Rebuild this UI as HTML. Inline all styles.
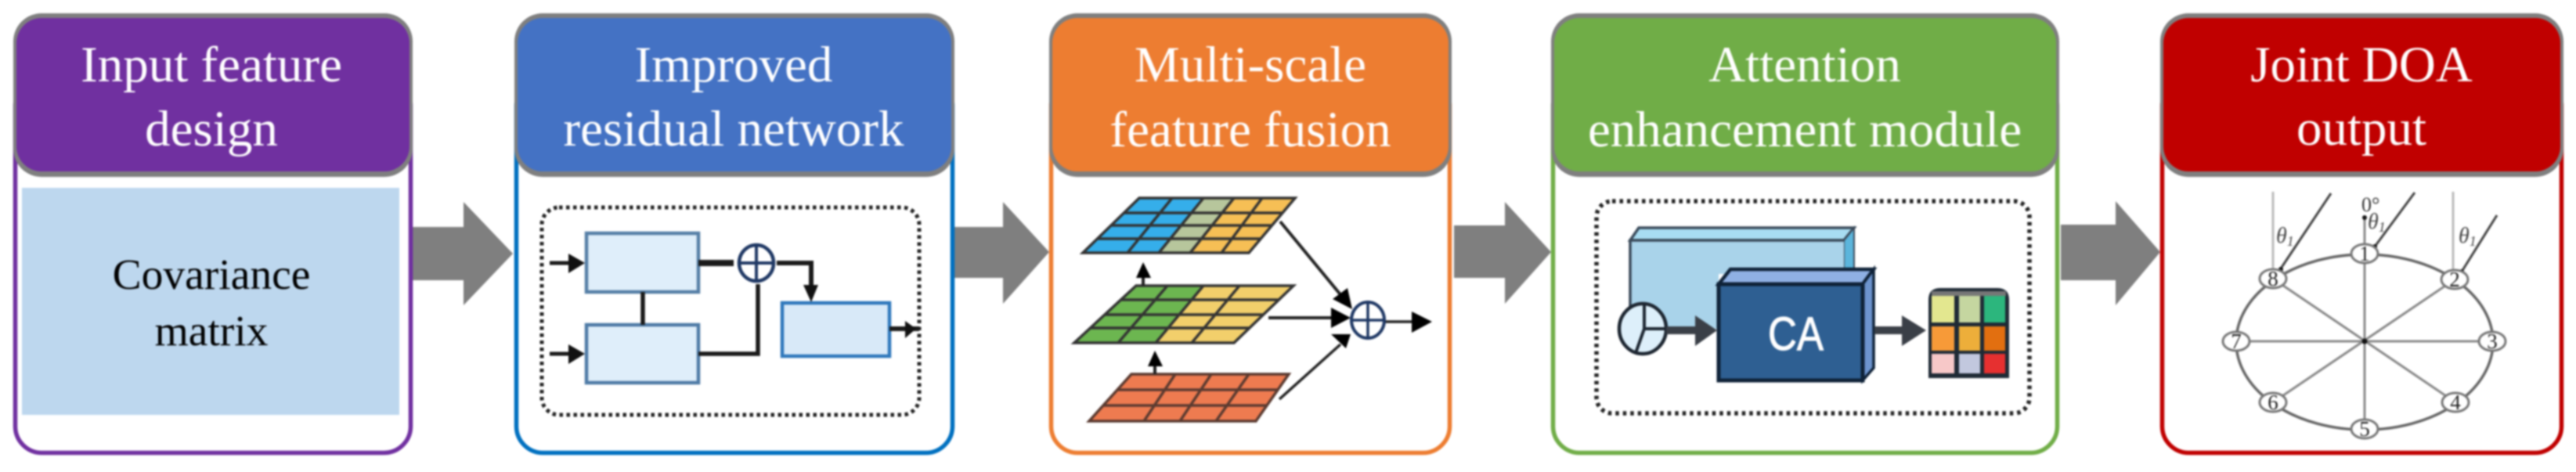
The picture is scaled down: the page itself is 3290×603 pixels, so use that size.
<!DOCTYPE html>
<html><head><meta charset="utf-8"><style>
html,body{margin:0;padding:0;background:#fff;width:3290px;height:603px;overflow:hidden}
svg{display:block;filter:blur(1px)}
.h{font-family:"Liberation Serif",serif;font-size:65px;fill:#fff;text-anchor:middle}
.c{font-family:"Liberation Serif",serif;font-size:55.5px;fill:#000;text-anchor:middle}
.n{font-family:"Liberation Serif",serif;font-size:27px;fill:#222;text-anchor:middle}
.t{font-family:"Liberation Serif",serif;font-style:italic;font-size:28px;fill:#444}
</style></head><body>
<svg width="3290" height="603" viewBox="0 0 3290 603" xmlns="http://www.w3.org/2000/svg">
<rect width="3290" height="603" fill="#fff"/>

<!-- block arrows -->
<g fill="#7f7f7f">
<path d="M527 290H592V258L655 324L592 390V358H527z"/>
<path d="M1219 290H1281V258L1340 322L1281 388V355H1219z"/>
<path d="M1857 288H1922V258L1981 322L1922 388V355H1857z"/>
<path d="M2632 287H2702V257L2759 322L2702 390V358H2632z"/>
</g>

<!-- box bodies -->
<g fill="#fff" stroke-width="5.5">
<rect x="19.5" y="100" width="505" height="478.5" rx="34" stroke="#7030a0"/>
<rect x="659.5" y="100" width="557" height="478.5" rx="34" stroke="#0070c0"/>
<rect x="1342.5" y="100" width="509" height="478.5" rx="34" stroke="#ed7d31"/>
<rect x="1983.5" y="100" width="644" height="478.5" rx="34" stroke="#70ad47"/>
<rect x="2761.5" y="100" width="510" height="478.5" rx="34" stroke="#c00000"/>
</g>

<!-- headers -->
<g fill="#7f7f7f">
<rect x="17" y="17" width="510" height="209" rx="36"/>
<rect x="657" y="17" width="562" height="209" rx="36"/>
<rect x="1340" y="17" width="514" height="209" rx="36"/>
<rect x="1981" y="17" width="649" height="209" rx="36"/>
<rect x="2759" y="17" width="515" height="209" rx="36"/>
</g>
<rect x="21" y="23" width="502" height="196" rx="32" fill="#7030a0"/>
<rect x="661" y="23" width="554" height="196" rx="32" fill="#4472c4"/>
<rect x="1344" y="23" width="506" height="196" rx="32" fill="#ed7d31"/>
<rect x="1985" y="23" width="641" height="196" rx="32" fill="#70ad47"/>
<rect x="2763" y="23" width="507" height="196" rx="32" fill="#c00000"/>

<text class="h" x="270" y="104">Input feature</text>
<text class="h" x="270" y="186">design</text>
<text class="h" x="937" y="104">Improved</text>
<text class="h" x="937" y="186">residual network</text>
<text class="h" x="1597" y="104">Multi-scale</text>
<text class="h" x="1597" y="187">feature fusion</text>
<text class="h" x="2305" y="104">Attention</text>
<text class="h" x="2305" y="187">enhancement module</text>
<text class="h" x="3016" y="104">Joint DOA</text>
<text class="h" x="3016" y="185">output</text>

<!-- box 1 -->
<rect x="28" y="240" width="482" height="290" fill="#bdd7ee"/>
<text class="c" x="270" y="369">Covariance</text>
<text class="c" x="270" y="441">matrix</text>

<!-- box 2 -->
<rect x="692" y="265" width="482" height="265" rx="22" fill="#fff" stroke="#222" stroke-width="5" stroke-dasharray="4.5 4.5"/>
<g fill="#dfeefa" stroke-width="4.5">
<rect x="749" y="298" width="143" height="75" stroke="#567fa6"/>
<rect x="749" y="415" width="143" height="74" stroke="#4f7ba6"/>
<rect x="999" y="387" width="137" height="68" fill="#d8e9f8" stroke="#2f78bc"/>
</g>
<g fill="none" stroke="#1a1a1a">
<path d="M702 336H730M702 452H730" stroke-width="5"/>
<path d="M892 336H937" stroke-width="8"/>
<path d="M821 373V415" stroke-width="5.5"/>
<path d="M892 452H968V363" stroke-width="5.5"/>
<path d="M992 336H1036V365" stroke-width="6"/>
<path d="M1136 420H1174" stroke-width="6"/>
</g>
<g fill="#111">
<path d="M726 324L747 336L726 349z"/>
<path d="M726 440L747 452L726 465z"/>
<path d="M1026 364H1045L1036 386z"/>
<path d="M1156 410L1170 420L1156 432z"/>
</g>
<ellipse cx="966" cy="336" rx="22" ry="23" fill="#fff" stroke="#1f3864" stroke-width="4.5"/>
<path d="M966 313V359M944 336H988" stroke="#1f3864" stroke-width="4"/>

<!-- box 3 grids -->
<path d="M1455 253H1537L1480 323H1383z" fill="#35aeea"/>
<path d="M1537 253H1576L1520 323H1480z" fill="#b7c69c"/>
<path d="M1576 253H1654L1595 323H1520z" fill="#f6bf55"/>
<path d="M1451 365H1537L1476 438H1372z" fill="#6cb650"/>
<path d="M1537 365H1652L1576 438H1476z" fill="#f2cf6b"/>
<path d="M1445 478H1646L1604 538H1391z" fill="#ee7b50"/>
<g fill="none" stroke="#333" stroke-width="3.5">
<path d="M1455 253H1654L1595 323H1383z"/>
<path d="M1435 272H1638M1419 288H1625M1401 305H1610M1497 253L1440 323M1537 253L1480 323M1576 253L1520 323M1612 253L1560 323"/>
<path d="M1451 365H1652L1576 438H1372z"/>
<path d="M1431 383H1633M1411 402H1613M1392 419H1596M1491 365L1428 438M1537 365L1476 438M1583 365L1522 438"/>
<path d="M1445 478H1646L1604 538H1391z" stroke="#5a3a30"/>
<path d="M1427 498H1632M1409 518H1618M1501 478L1461 538M1547 478L1507 538M1595 478L1553 538" stroke="#5a3a30"/>
</g>
<g stroke="#222" fill="none">
<path d="M1460 352V365M1475 465V478" stroke-width="4"/>
<path d="M1635 283L1715 380" stroke-width="4"/>
<path d="M1620 406H1705" stroke-width="4"/>
<path d="M1634 510L1712 440" stroke-width="3.5"/>
<path d="M1768 411H1806" stroke-width="3.5"/>
</g>
<g fill="#000">
<path d="M1451 355L1460 335L1470 355z"/>
<path d="M1466 468L1475 448L1485 468z"/>
<path d="M1727 395L1702 382L1721 368z"/>
<path d="M1725 406L1700 393V419z"/>
<path d="M1725 427L1719 445L1700 427z"/>
<path d="M1803 398L1829 411L1803 425z"/>
</g>
<ellipse cx="1747" cy="409" rx="21" ry="23" fill="#fff" stroke="#1f3864" stroke-width="4"/>
<path d="M1747 386V432M1726 409H1768" stroke="#1f3864" stroke-width="3.5"/>

<!-- box 4 -->
<rect x="2039" y="257" width="553" height="271" rx="20" fill="#fff" stroke="#222" stroke-width="5.5" stroke-dasharray="4.5 5"/>
<path d="M2082 307L2093 291H2368L2355 307z" fill="#a8ddf2" stroke="#3a4a5a" stroke-width="3.5"/>
<path d="M2355 307L2368 291V350H2355z" fill="#5bb5dc" stroke="#3a4a5a" stroke-width="2"/>
<path d="M2082 307H2355V350H2195V420H2082z" fill="#a9d3ea"/>
<path d="M2082 420V307H2355" fill="none" stroke="#3a4a5a" stroke-width="3.5"/>
<path d="M2195 363L2210 344H2393L2379 363z" fill="#8fb0e4" stroke="#0f2238" stroke-width="4.5"/>
<path d="M2379 363L2393 344V470L2379 486z" fill="#6d94ce" stroke="#0f2238" stroke-width="3.5"/>
<rect x="2195" y="363" width="184" height="123" fill="#2e5f92" stroke="#0f2238" stroke-width="5"/>
<text x="2258" y="447" font-family="'Liberation Sans',sans-serif" font-size="60" fill="#fff" stroke="#fff" stroke-width="1" textLength="71" lengthAdjust="spacingAndGlyphs">CA</text>
<ellipse cx="2098" cy="420" rx="30" ry="32" fill="#ddeffa" stroke="#1c2530" stroke-width="4.5"/>
<path d="M2100 389V420H2128M2100 420L2089 451" fill="none" stroke="#1c2530" stroke-width="4"/>
<path d="M2128 422H2170M2394 422H2432" stroke="#3a3f47" stroke-width="10"/>
<path d="M2165 403L2193 422L2165 442zM2429 403L2460 422L2429 442z" fill="#3a3f47"/>
<path d="M2463 483V383Q2463 368 2478 368H2551Q2566 368 2566 383V483z" fill="#1f2a35"/>
<rect x="2467" y="372" width="95" height="6" fill="#777"/>
<rect x="2467" y="378" width="29" height="34" fill="#e3e78f"/><rect x="2502" y="378" width="27" height="34" fill="#c5d6a0"/><rect x="2534" y="378" width="27" height="34" fill="#2cb67d"/>
<rect x="2467" y="417" width="29" height="31" fill="#f79a38"/><rect x="2502" y="417" width="27" height="31" fill="#edae3a"/><rect x="2534" y="417" width="27" height="31" fill="#e26f10"/>
<rect x="2467" y="452" width="29" height="25" fill="#f7c8c8"/><rect x="2502" y="452" width="27" height="25" fill="#c2c8de"/><rect x="2534" y="452" width="27" height="25" fill="#e63030"/>

<!-- box 5 -->
<ellipse cx="3020" cy="437" rx="164" ry="112" fill="none" stroke="#666" stroke-width="3.5"/>
<path d="M3020 278V548M2856 436H3183M2903 356L3136 514M3135 357L2903 514" stroke="#888" stroke-width="3" fill="none"/>
<path d="M2903 245V347M3133 245V357" stroke="#bbb" stroke-width="3"/>
<path d="M2977 247L2913 343M3084 246L3033 315M3189 275L3144 347" stroke="#444" stroke-width="3"/>
<g fill="#111"><circle cx="3020" cy="278" r="3"/><circle cx="2913" cy="344" r="3"/><circle cx="3033" cy="315" r="3"/><circle cx="3144" cy="347" r="3"/><circle cx="3020" cy="436" r="3.5"/></g>
<g fill="#fff" stroke="#777" stroke-width="3">
<ellipse cx="3020" cy="324" rx="17" ry="12"/><ellipse cx="3135" cy="357" rx="17" ry="12"/><ellipse cx="3183" cy="436" rx="17" ry="12"/><ellipse cx="3136" cy="514" rx="17" ry="12"/><ellipse cx="3020" cy="548" rx="17" ry="12"/><ellipse cx="2903" cy="514" rx="17" ry="12"/><ellipse cx="2856" cy="436" rx="17" ry="12"/><ellipse cx="2903" cy="356" rx="17" ry="12"/>
</g>
<text class="n" x="3020" y="333">1</text><text class="n" x="3135" y="366">2</text><text class="n" x="3183" y="445">3</text><text class="n" x="3136" y="523">4</text><text class="n" x="3020" y="557">5</text><text class="n" x="2903" y="523">6</text><text class="n" x="2856" y="445">7</text><text class="n" x="2903" y="365">8</text>
<text x="3016" y="270" font-family="'Liberation Serif',serif" font-size="26" fill="#333">0°</text>
<text class="t" x="2907" y="310">θ<tspan font-size="18" dy="4">1</tspan></text>
<text class="t" x="3024" y="292">θ<tspan font-size="18" dy="4">1</tspan></text>
<text class="t" x="3140" y="310">θ<tspan font-size="18" dy="4">1</tspan></text>
</svg>
</body></html>
